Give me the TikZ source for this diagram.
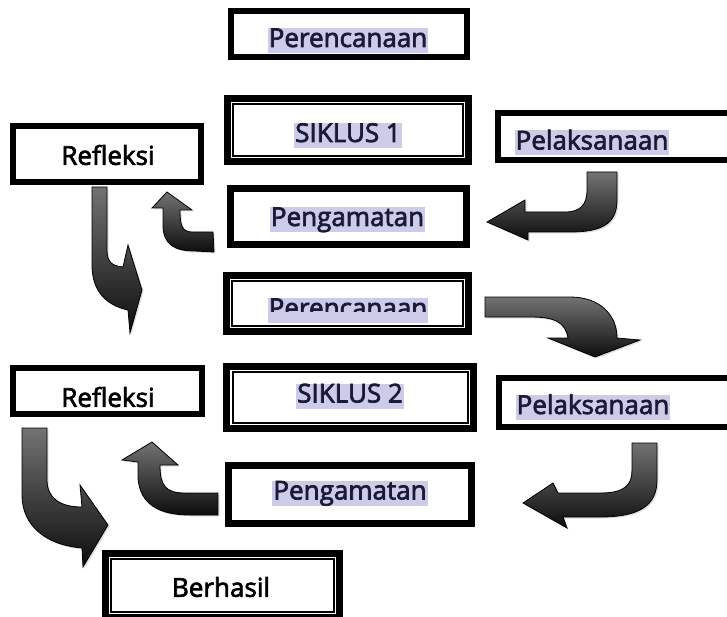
\documentclass[tikz,border=0pt]{standalone}
\usepackage{fontspec}
\setmainfont{Open Sans}
\newfontfamily\semibf[FakeBold=2.6]{Open Sans}
\usetikzlibrary{shadows}
\definecolor{hl}{HTML}{CCCCE8}
\definecolor{ink}{HTML}{1A1A38}
\begin{document}
\begin{tikzpicture}[x=1pt,y=-1pt,
  box/.style={draw=black, fill=white, inner sep=0pt},
  thinline/.style={draw=black, line width=1.1pt},
  lbl/.style={fill=hl, text=ink, inner xsep=1pt, inner ysep=0pt, text height=19pt, text depth=6pt, font=\semibf\fontsize{26}{30}\selectfont},
  plainlbl/.style={text=black, inner sep=0pt, font=\semibf\fontsize{26}{30}\selectfont},
  barrow/.style={draw=black, line width=0.8pt, top color=black!55, bottom color=black!95,
    drop shadow={opacity=0.25, shadow xshift=1.5pt, shadow yshift=-1.5pt}}]
\useasboundingbox (0,0) rectangle (727,617);
\fill[white] (0,0) rectangle (727,617);
\clip (0,0) rectangle (727,617);

% boxes
\node[box, line width=6pt, minimum width=236pt, minimum height=46pt] (per1) at (349,34) {};
\node[box, line width=7pt, minimum width=241pt, minimum height=63pt] (sik1) at (348,130) {};
\draw[thinline] (233,104) rectangle (463,156);
\node[box, line width=7pt, minimum width=236pt, minimum height=56pt] (png1) at (348.5,216.5) {};
\node[box, line width=6pt, minimum width=188pt, minimum height=56pt] (ref1) at (107,154) {};
\node[box, line width=6pt, minimum width=252pt, minimum height=47pt] (pel1) at (624,136.5) {};

\node[box, line width=7pt, minimum width=242pt, minimum height=56pt] (per2) at (347.5,303.5) {};
\draw[thinline] (232,281) rectangle (463,326);
\node[box, line width=7pt, minimum width=247pt, minimum height=62pt] (sik2) at (350,397.5) {};
\draw[thinline] (233,372) rectangle (468,423);
\node[box, line width=6pt, minimum width=251pt, minimum height=49pt] (pel2) at (624.5,402.5) {};
\node[box, line width=7pt, minimum width=243pt, minimum height=58pt] (png2) at (350,494.5) {};
\node[box, line width=6pt, minimum width=189pt, minimum height=46pt] (ref2) at (107.5,391) {};
\node[box, line width=7pt, minimum width=234pt, minimum height=64pt] (ber) at (222.5,585.5) {};
\draw[thinline] (111,559) rectangle (334,612);

% texts
\node[lbl] (t1) at (348,40.5) {Perencanaan};
\node[lbl] (t2) at (348,135.5) {SIKLUS 1};
\node[lbl] (t3) at (347.5,219.5) {Pengamatan};
\node[plainlbl] (t4) at (108,155) {Refleksi};
\node[lbl] (t5) at (592,143) {Pelaksanaan};
\node[lbl] (t6) at (348,310.5) {Perencanaan};
\fill[hl] (t6.south west) ++(0,-11) rectangle (t6.south east);
\node[lbl] (t7) at (350,396) {SIKLUS 2};
\node[lbl] (t8) at (593,407.5) {Pelaksanaan};
\node[lbl] (t9) at (350,493) {Pengamatan};
\node[plainlbl] (t10) at (108,397) {Refleksi};
\node[plainlbl] (t11) at (221,587) {Berhasil};

% block arrows
% Pelaksanaan 1 -> Pengamatan 1
\path[barrow] (587,172) -- (617,172) -- (617,200) .. controls (617,225) and (600,232) .. (570,232)
  -- (528,232) -- (528,240) -- (487,222) -- (525,200) -- (525,212) -- (565,212)
  .. controls (580,212) and (587,205) .. (587,190) -- cycle;
% Pengamatan 1 -> Refleksi 1
\path[barrow] (213,232) -- (192,232) .. controls (182,232) and (180,225) .. (180,210)
  -- (192,210) -- (167,192) -- (152,208) -- (163,208) -- (163,225)
  .. controls (163,245) and (175,251) .. (195,251) -- (214,252) -- cycle;
% Refleksi 1 -> Perencanaan 2
\path[barrow] (92,187) -- (107,187) -- (107,250) .. controls (107,262) and (112,266) .. (123,267)
  -- (128,245) -- (142,290) -- (130,333) -- (128,310)
  .. controls (105,305) and (92,290) .. (92,265) -- cycle;
% Perencanaan 2 -> Pelaksanaan 2
\path[barrow] (485,297) -- (570,297) .. controls (600,297) and (617,315) .. (617,338)
  -- (640,340) -- (595,357) -- (548,338) -- (568,338)
  .. controls (565,322) and (555,317) .. (530,317) -- (485,317) -- cycle;
% Pelaksanaan 2 -> Pengamatan 2
\path[barrow] (632,443) -- (657,443) -- (657,480) .. controls (657,505) and (640,517) .. (600,517)
  -- (563,517) -- (567,528) -- (523,503) -- (553,483) -- (558,493) -- (600,493)
  .. controls (625,493) and (632,485) .. (632,470) -- cycle;
% Pengamatan 2 -> Refleksi 2
\path[barrow] (218,493) -- (185,493) .. controls (165,493) and (160,485) .. (160,465)
  -- (178,465) -- (152,442) -- (122,460) -- (138,462) -- (138,478)
  .. controls (140,505) and (160,515) .. (190,515) -- (218,515) -- cycle;
% Refleksi 2 -> Berhasil
\path[barrow] (22,428) -- (47,428) -- (47,480) .. controls (47,498) and (60,507) .. (82,507)
  -- (80,485) -- (108,525) -- (83,567) -- (82,548)
  .. controls (45,545) and (22,525) .. (22,495) -- cycle;
\end{tikzpicture}
\end{document}
